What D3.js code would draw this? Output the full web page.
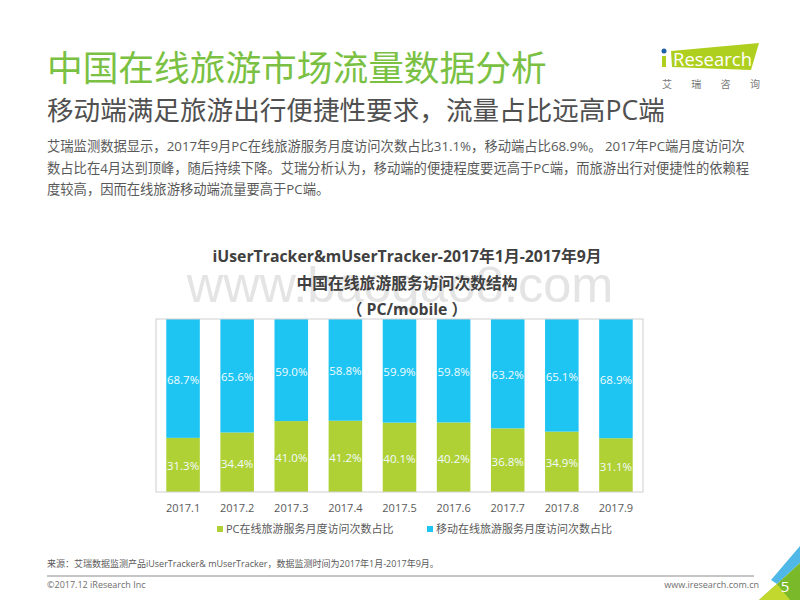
<!DOCTYPE html>
<html>
<head>
<meta charset="utf-8">
<script src="https://cdn.jsdelivr.net/npm/d3@7"></script>
<style>
  html, body { margin: 0; padding: 0; background: #fff; }
  svg { display: block; }
  text { font-family: "Open Sans", "Noto Sans CJK SC", sans-serif; }
</style>
</head>
<body>
<div id="chart"></div>
<script>
// Chart data
const months = ['2017.1', '2017.2', '2017.3', '2017.4', '2017.5', '2017.6', '2017.7', '2017.8', '2017.9'];
const pcShare = [31.3, 34.4, 41.0, 41.2, 40.1, 40.2, 36.8, 34.9, 31.1];
const mobileShare = [68.7, 65.6, 59.0, 58.8, 59.9, 59.8, 63.2, 65.1, 68.9];
const seriesNames = ['PC在线旅游服务月度访问次数占比', '移动在线旅游服务月度访问次数占比'];
const seriesColors = ['#afd136', '#1ec5f3'];

const chartTitle = ['iUserTracker&mUserTracker-2017年1月-2017年9月', '中国在线旅游服务访问次数结构', '（ PC/mobile ）'];
const bodyLines = [
    '艾瑞监测数据显示，2017年9月PC在线旅游服务月度访问次数占比31.1%，移动端占比68.9%。 2017年PC端月度访问次',
    '数占比在4月达到顶峰，随后持续下降。艾瑞分析认为，移动端的便捷程度要远高于PC端，而旅游出行对便捷性的依赖程',
    '度较高，因而在线旅游移动端流量要高于PC端。'
];

const width = 800;
const height = 600;
const svg = d3.select('#chart').append('svg')
    .attr('width', width)
    .attr('height', height);

// Watermark sits behind everything else
svg.append('text')
    .attr('x', 400).attr('y', 302)
    .attr('text-anchor', 'middle')
    .style('font-family', '"Liberation Sans", sans-serif')
    .style('font-size', '50.5px')
    .style('fill', '#e4e4e4')
    .text('www.baogao8.com');

// Page header
svg.append('text')
    .attr('x', 47).attr('y', 81)
    .style('font-size', '35.7px')
    .style('fill', '#7ac143')
    .text('中国在线旅游市场流量数据分析');

svg.append('text')
    .attr('x', 47).attr('y', 120)
    .style('font-size', '26.6px')
    .style('fill', '#505050')
    .text('移动端满足旅游出行便捷性要求，流量占比远高PC端');

svg.selectAll('.body-line')
    .data(bodyLines)
    .enter()
    .append('text')
    .attr('class', 'body-line')
    .attr('x', 47)
    .attr('y', (d, i) => 151 + i * 21.7)
    .style('font-size', '13.3px')
    .style('fill', '#595959')
    .text(d => d);

// Logo
const logo = svg.append('g');
logo.append('polygon')
    .attr('points', '671,51 759,43 751,70 672,67')
    .style('fill', '#afcf1e');
logo.append('circle').attr('cx', 664).attr('cy', 51).attr('r', 2.5).style('fill', '#1f5fa8');
logo.append('rect').attr('x', 662).attr('y', 56).attr('width', 4).attr('height', 11).style('fill', '#afcf1e');
logo.append('text')
    .attr('x', 673).attr('y', 66)
    .style('font-size', '18.5px')
    .style('fill', '#fff')
    .text('Research');
logo.selectAll('.logo-cn')
    .data(['艾', '瑞', '咨', '询'])
    .enter()
    .append('text')
    .attr('class', 'logo-cn')
    .attr('x', (d, i) => 667 + i * 29.3)
    .attr('y', 88)
    .attr('text-anchor', 'middle')
    .style('font-size', '10px')
    .style('fill', '#777')
    .text(d => d);

// Chart title
svg.selectAll('.chart-title')
    .data(chartTitle)
    .enter()
    .append('text')
    .attr('class', 'chart-title')
    .attr('x', 407)
    .attr('y', (d, i) => 262 + i * 26.5)
    .attr('text-anchor', 'middle')
    .style('font-size', '15.8px')
    .style('font-weight', 700)
    .style('fill', '#404040')
    .text(d => d);

// Stacked bars
const plot = { left: 156, right: 643, top: 319, bottom: 492 };

const x = d3.scaleBand()
    .domain(months)
    .range([plot.left, plot.right])
    .paddingInner(0.38)
    .paddingOuter(0.19);

const y = d3.scaleLinear()
    .domain([0, 100])
    .range([plot.bottom, plot.top]);

const rows = months.map((m, i) => ({ month: m, pc: pcShare[i], mobile: mobileShare[i] }));
const stacked = d3.stack().keys(['pc', 'mobile'])(rows);

const layers = svg.selectAll('.layer')
    .data(stacked)
    .enter()
    .append('g')
    .attr('class', 'layer')
    .style('fill', (d, i) => seriesColors[i]);

layers.selectAll('rect')
    .data(d => d)
    .enter()
    .append('rect')
    .attr('x', d => x(d.data.month))
    .attr('y', d => y(d[1]))
    .attr('width', x.bandwidth())
    .attr('height', d => y(d[0]) - y(d[1]));

layers.selectAll('text')
    .data(d => d)
    .enter()
    .append('text')
    .attr('x', d => x(d.data.month) + x.bandwidth() / 2)
    .attr('y', d => (y(d[0]) + y(d[1])) / 2 + 5.5)
    .attr('text-anchor', 'middle')
    .style('font-size', '11.5px')
    .style('fill', '#f2fbff')
    .text(d => (d[1] - d[0]).toFixed(1) + '%');

// Plot frame
svg.append('rect')
    .attr('x', plot.left)
    .attr('y', plot.top)
    .attr('width', plot.right - plot.left)
    .attr('height', plot.bottom - plot.top)
    .style('fill', 'none')
    .style('stroke', '#cfcfcf')
    .style('stroke-width', 1);

const xAxis = svg.append('g')
    .attr('transform', `translate(0,${plot.bottom})`)
    .call(d3.axisBottom(x).tickSize(0).tickPadding(12));
xAxis.select('.domain').remove();
xAxis.selectAll('text')
    .style('font-family', '"Open Sans", sans-serif')
    .style('font-size', '11px')
    .style('fill', '#595959');

// Legend
const legendX = [217, 427];
const legend = svg.selectAll('.legend')
    .data(seriesNames)
    .enter()
    .append('g')
    .attr('class', 'legend')
    .attr('transform', (d, i) => `translate(${legendX[i]},529)`);
legend.append('rect')
    .attr('x', 0).attr('y', -3)
    .attr('width', 6).attr('height', 6)
    .style('fill', (d, i) => seriesColors[i]);
legend.append('text')
    .attr('x', 9).attr('y', 4)
    .style('font-size', '11px')
    .style('fill', '#595959')
    .text(d => d);

// Footer
svg.append('text')
    .attr('x', 47).attr('y', 567)
    .style('font-size', '9px')
    .style('fill', '#595959')
    .text('来源：艾瑞数据监测产品iUserTracker& mUserTracker，数据监测时间为2017年1月-2017年9月。');

svg.append('line')
    .attr('x1', 47).attr('x2', 754)
    .attr('y1', 576).attr('y2', 576)
    .style('stroke', '#8c8c8c')
    .style('stroke-width', 1);

svg.append('text')
    .attr('x', 47).attr('y', 588)
    .style('font-size', '9px')
    .style('fill', '#6e6e6e')
    .text('©2017.12 iResearch Inc');

svg.append('text')
    .attr('x', 759).attr('y', 588)
    .attr('text-anchor', 'end')
    .style('font-size', '9px')
    .style('fill', '#6e6e6e')
    .text('www.iresearch.com.cn');

// Corner decoration and page number
const corner = [
    { points: '771,580 800,546 800,563 777,584', color: '#4fb8e6' },
    { points: '777,584 800,563 800,600 759,600', color: '#7ab929' },
    { points: '759,600 777,584 790,600', color: '#c3d82e' }
];
svg.selectAll('.corner')
    .data(corner)
    .enter()
    .append('polygon')
    .attr('class', 'corner')
    .attr('points', d => d.points)
    .style('fill', d => d.color);

svg.append('text')
    .attr('x', 785).attr('y', 592)
    .attr('text-anchor', 'middle')
    .style('font-size', '15px')
    .style('fill', '#fff')
    .text('5');
</script>
</body>
</html>
